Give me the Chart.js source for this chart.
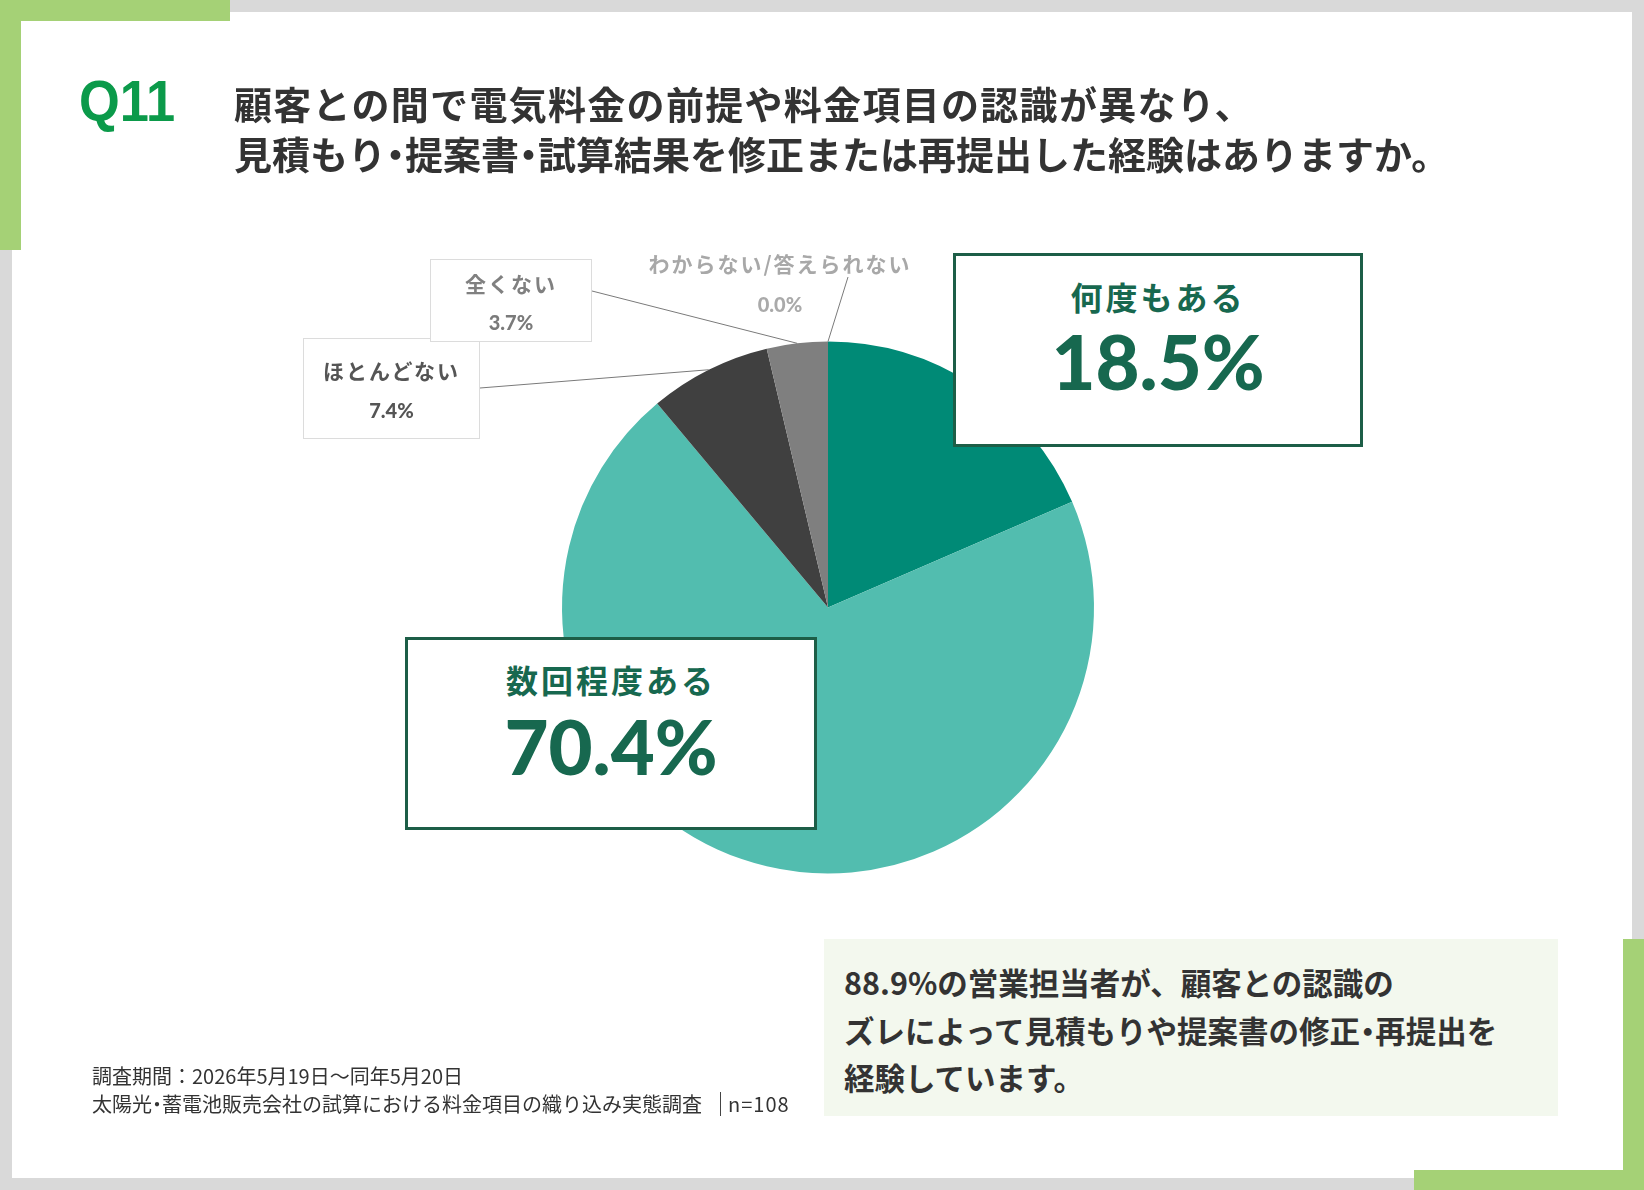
<!DOCTYPE html>
<html lang="ja">
<head>
<meta charset="utf-8">
<title>Q11</title>
<script src="https://cdn.jsdelivr.net/npm/chart.js@4.4.1/dist/chart.umd.min.js"></script>
<style>
  html, body { margin: 0; padding: 0; background: #fff; }
  #page { position: relative; width: 1644px; height: 1190px; overflow: hidden; background: #fff;
          font-family: "Noto Sans CJK JP", "Noto Sans", sans-serif; color: #333; }
  .bar { position: absolute; }
  .gray { background: #d9d9d9; }
  .green { background: #a5d176; }
  #wrap { position: absolute; left: 0; top: 0; width: 1644px; height: 1190px; }
  #q { position: absolute; left: 79px; top: 68px; font: bold 57px "Liberation Sans", Arial, sans-serif;
       color: #0b9a4a; transform: scaleX(0.92); transform-origin: left top; line-height: 66px; }
  #title { position: absolute; left: 234px; top: 78px; font-weight: 700; font-size: 38px; line-height: 50px;
           color: #333; white-space: nowrap; }
  #title .l1 { letter-spacing: 1.3px; }
  .dot { margin: 0 -0.25em; }
  .lbl { position: absolute; box-sizing: border-box; background: #fff; }
  .lbl div { position: absolute; left: 0; width: 100%; text-align: center; white-space: nowrap; }
  #summary { position: absolute; left: 824px; top: 939px; width: 734px; height: 177px; background: #f3f8ee; }
  #summary p { position: absolute; left: 20px; top: 20px; margin: 0; font-weight: 700; font-size: 30.5px;
               line-height: 47.5px; color: #333; white-space: nowrap; }
  #foot { position: absolute; left: 92px; top: 1062px; font-size: 20px; line-height: 28px; color: #333;
          white-space: nowrap; }
  #foot .n { display: inline-block; border-left: 1.5px solid #444; padding-left: 7px; margin-left: 18px;
             line-height: 24px; letter-spacing: 1px; }
</style>
</head>
<body>
<div id="page">
  <div class="bar gray" style="left:0;top:0;width:1644px;height:12px"></div>
  <div class="bar gray" style="left:0;top:0;width:12px;height:1190px"></div>
  <div class="bar gray" style="left:1632px;top:0;width:12px;height:1190px"></div>
  <div class="bar gray" style="left:0;top:1178px;width:1644px;height:12px"></div>
  <div class="bar green" style="left:0;top:0;width:230px;height:21px"></div>
  <div class="bar green" style="left:0;top:0;width:21px;height:250px"></div>
  <div class="bar green" style="left:1623px;top:939px;width:21px;height:251px"></div>
  <div class="bar green" style="left:1414px;top:1170px;width:230px;height:20px"></div>

  <div id="wrap"><canvas id="pie"></canvas></div>

  <div id="q">Q11</div>
  <div id="title"><span class="l1">顧客との間で電気料金の前提や料金項目の認識が異なり、</span><br>見積もり<span class="dot">・</span>提案書<span class="dot">・</span>試算結果を修正または再提出した経験はありますか。</div>

  <div id="summary"><p>88.9%の営業担当者が、顧客との認識の<br>ズレによって見積もりや提案書の修正<span class="dot">・</span>再提出を<br>経験しています。</p></div>

  <div id="foot">調査期間：2026年5月19日～同年5月20日<br>太陽光<span class="dot">・</span>蓄電池販売会社の試算における料金項目の織り込み実態調査<span class="n">n=108</span></div>
</div>

<script>
const CATEGORIES = ['何度もある', '数回程度ある', 'ほとんどない', '全くない', 'わからない/答えられない'];
const VALUES = [18.5, 70.4, 7.4, 3.7, 0.0];
const SLICE_COLORS = ['#008a76', '#52bdaf', '#404040', '#7f7f7f', '#bfbfbf'];

// label boxes (position and look per slice)
const BOXES = [
  { x: 953, y: 253, w: 410, h: 194, border: '3px solid #1d5e47', color: '#17684f',
    labelY: 40, labelFont: '700 32px "Noto Sans CJK JP"', labelLs: 3,
    valueY: 105, valueFont: '900 76px Lato', valueColor: '#17684f' },
  { x: 405, y: 637, w: 412, h: 193, border: '3px solid #1d5e47', color: '#17684f',
    labelY: 39, labelFont: '700 32px "Noto Sans CJK JP"', labelLs: 3,
    valueY: 106, valueFont: '900 76px Lato', valueColor: '#17684f' },
  { x: 303, y: 338, w: 177, h: 101, border: '1px solid #dcdcdc', color: '#555',
    labelY: 31, labelFont: '700 21px "Noto Sans CJK JP"', labelLs: 2,
    valueY: 71, valueFont: '900 20px Lato', valueColor: '#555', anchor: [480, 388] },
  { x: 430, y: 259, w: 162, h: 83, border: '1px solid #dcdcdc', color: '#808080',
    labelY: 23, labelFont: '700 21px "Noto Sans CJK JP"', labelLs: 2,
    valueY: 62, valueFont: '900 20px Lato', valueColor: '#7a7a7a', anchor: [592, 291] },
  { x: 640, y: 240, w: 280, h: 80, border: 'none', color: '#a8a8a8', bg: 'transparent',
    labelY: 23, labelFont: '700 21px "Noto Sans CJK JP"', labelLs: 2,
    valueY: 64, valueFont: '900 20px Lato', valueColor: '#aaaaaa', anchor: [848, 277] },
];

const page = document.getElementById('page');
BOXES.forEach((b, i) => {
  const box = document.createElement('div');
  box.className = 'lbl';
  box.style.cssText = `left:${b.x}px;top:${b.y}px;width:${b.w}px;height:${b.h}px;border:${b.border};` +
    (b.bg ? `background:${b.bg};` : '');
  const lab = document.createElement('div');
  lab.textContent = CATEGORIES[i];
  lab.style.cssText = `top:${b.labelY - 25}px;font:${b.labelFont};line-height:50px;letter-spacing:${b.labelLs}px;color:${b.color};`;
  const val = document.createElement('div');
  val.textContent = VALUES[i].toFixed(1) + '%';
  val.style.cssText = `top:${b.valueY - 50}px;font:${b.valueFont};line-height:100px;color:${b.valueColor};`;
  box.appendChild(lab);
  box.appendChild(val);
  page.appendChild(box);
});

// leader lines from slice edge to small label boxes
const leaderLines = {
  id: 'leaderLines',
  afterDatasetsDraw(chart) {
    const ctx = chart.ctx;
    const arcs = chart.getDatasetMeta(0).data;
    ctx.save();
    ctx.strokeStyle = '#7a7a7a';
    ctx.lineWidth = 1;
    BOXES.forEach((b, i) => {
      if (!b.anchor) return;
      const arc = arcs[i];
      const mid = (arc.startAngle + arc.endAngle) / 2;
      const px = arc.x + Math.cos(mid) * arc.outerRadius;
      const py = arc.y + Math.sin(mid) * arc.outerRadius;
      ctx.beginPath();
      ctx.moveTo(px, py);
      ctx.lineTo(b.anchor[0], b.anchor[1]);
      ctx.stroke();
    });
    ctx.restore();
  },
};

new Chart(document.getElementById('pie'), {
  type: 'pie',
  data: {
    labels: CATEGORIES,
    datasets: [
      {
        data: VALUES,
        backgroundColor: SLICE_COLORS,
        borderWidth: 0,
      },
    ],
  },
  options: {
    responsive: true,
    maintainAspectRatio: false,
    animation: false,
    events: [],
    layout: { padding: { left: 562, right: 550, top: 341, bottom: 316 } },
    plugins: {
      legend: { display: false },
      tooltip: { enabled: false },
    },
  },
  plugins: [leaderLines],
});
</script>
</body>
</html>
